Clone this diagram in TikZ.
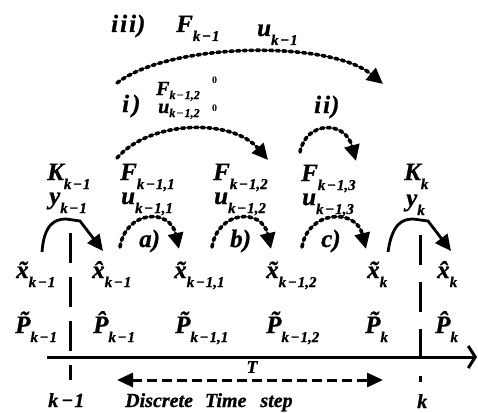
\documentclass[tikz,border=0pt]{standalone}
\usepackage{fontspec}
\setmainfont{Liberation Serif}[BoldItalicFeatures={FakeBold=0.9}]
\usetikzlibrary{arrows.meta}
\newcommand{\Sb}[1]{\raisebox{-9pt}{\fontsize{15}{15}\selectfont #1}}
\newcommand{\Ss}[1]{\raisebox{-4pt}{\fontsize{12}{12}\selectfont #1}}
\newcommand{\kmo}{k\kern1.5pt−\kern1pt1}
\begin{document}
\begin{tikzpicture}[x=1pt,y=-1pt,
  lab/.style={inner sep=0pt,anchor=base west,font=\fontsize{25}{25}\selectfont\bfseries\itshape},
  labs/.style={inner sep=0pt,anchor=base west,font=\fontsize{20}{20}\selectfont\bfseries\itshape},
  labz/.style={inner sep=0pt,anchor=base west,font=\fontsize{10}{10}\selectfont\bfseries},
  bot/.style={inner sep=0pt,anchor=base west,font=\fontsize{20}{20}\selectfont\bfseries\itshape},
  dotarc/.style={line width=3.6pt,dash pattern=on 3.2pt off 3.4pt,line cap=round,
     -{Triangle[length=16pt,width=15pt,line cap=butt,sep=0pt]}},
  solarc/.style={line width=2.8pt,-{Triangle[length=16pt,width=15pt]}},
  vdash/.style={line width=3pt},
]
\useasboundingbox (0,0) rectangle (478,412);
% top group
\node[lab] (iii) at (111,32) {i\kern2pt i\kern2pt i\kern1pt)};
\node[lab] (Ftop) at (176,32) {F\Sb{\kmo}};
\node[lab] (utop) at (257,36) {u\Sb{\kmo}};
\node[lab] (i) at (122,112) {i\kern3pt)};
\node[labs] (F0) at (156,95) {F\Ss{k\kern1pt−\kern1pt1,2}};
\node[labs] (u0) at (158,113) {u\Ss{k\kern1pt−\kern1pt1,2}};
\node[labz] (z1) at (212,83) {0};
\node[labz] (z2) at (212,111) {0};
\node[lab] (ii) at (314,113) {i\kern2pt i\kern1pt)};
% middle rows
\node[lab] (K1) at (47,180) {K\Sb{\kmo}};
\node[lab] (y1) at (49,204) {y\Sb{\kmo}};
\node[lab] (F1) at (120,180) {F\Sb{\kmo,1}};
\node[lab] (u1) at (121,204) {u\Sb{\kmo,1}};
\node[lab] (F2) at (213,180) {F\Sb{\kmo,2}};
\node[lab] (u2) at (214,204) {u\Sb{\kmo,2}};
\node[lab] (F3) at (301,181) {F\Sb{\kmo,3}};
\node[lab] (u3) at (302,205) {u\Sb{\kmo,3}};
\node[lab] (K2) at (404,180) {K\Sb{k}};
\node[lab] (y2) at (406,206) {y\Sb{k}};
\node[lab] (a) at (139,247) {a)};
\node[lab] (b) at (230,247) {b)};
\node[lab] (c) at (321,247) {c)};
% state row
\node[lab] (x1) at (16,278) {\~{x}\Sb{\kmo}};
\node[lab] (x2) at (92,278) {\^{x}\Sb{\kmo}};
\node[lab] (x3) at (174,278) {\~{x}\Sb{\kmo,1}};
\node[lab] (x4) at (266,278) {\~{x}\Sb{\kmo,2}};
\node[lab] (x5) at (367,278) {\~{x}\Sb{k}};
\node[lab] (x6) at (437,278) {\^{x}\Sb{k}};
% covariance row
\node[lab] (P1) at (15,333) {\~{P}\Sb{\kmo}};
\node[lab] (P2) at (93,333) {\^{P}\Sb{\kmo}};
\node[lab] (P3) at (175,333) {\~{P}\Sb{\kmo,1}};
\node[lab] (P4) at (266,333) {\~{P}\Sb{\kmo,2}};
\node[lab] (P5) at (365,333) {\~{P}\Sb{k}};
\node[lab] (P6) at (435,333) {\^{P}\Sb{k}};
% bottom
\node[inner sep=0pt,font=\fontsize{18}{18}\selectfont\bfseries\itshape] (T) at (252,367) {T};
\node[bot] (km) at (48,407) {k\kern3pt−\kern1pt1};
\node[bot] (dts) at (125,407) {Discrete\kern12pt Time\kern14pt step};
\node[bot] (k) at (417,408) {k};
% coordinates
\coordinate (ax0) at (47,357);
\coordinate (ax1) at (477,357);
\coordinate (T0) at (117,380);
\coordinate (T1) at (383,380);
% vertical dashed lines
\draw[vdash,dash pattern=on 30pt off 14pt] (70,233) -- (70,380);
\draw[vdash,dash pattern=on 30pt off 17pt] (420,235) -- (420,382);
% axis
\draw[line width=3pt,-{Straight Barb[length=7pt,width=22pt,line width=3pt]}] (ax0) -- (ax1);
% T double arrow
\draw[line width=3pt,dash pattern=on 10pt off 5pt,
  {Triangle[length=16pt,width=14pt]}-{Triangle[length=16pt,width=14pt]}] (T0) -- (T1);
% arcs
\draw[dotarc] (117,83) .. controls (170,42) and (330,40) .. (383,84);
\draw[dotarc] (117,158) .. controls (150,120) and (232,118) .. (268,160);
\draw[dotarc] (300,152) .. controls (306,121) and (345,120) .. (356,161);
\draw[dotarc] (120,247) .. controls (126,210) and (170,208) .. (179,249);
\draw[dotarc] (212,247) .. controls (218,210) and (262,208) .. (271,249);
\draw[dotarc] (302,247) .. controls (308,210) and (356,208) .. (366,249);
\draw[solarc] (42,252) .. controls (44,224) and (55,219) .. (66,219) -- (80,221) -- (103,251);
\draw[solarc] (388,252) .. controls (392,224) and (402,219) .. (413,219) -- (428,221) -- (451,251);
\end{tikzpicture}
\end{document}
